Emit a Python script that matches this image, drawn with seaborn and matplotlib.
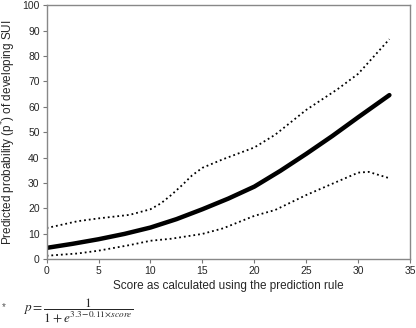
import pandas as pd
import matplotlib
matplotlib.use("Agg")
import matplotlib.pyplot as plt
import seaborn as sns

# values
score_mid = [0, 2.5, 5, 7.5, 10, 12.5, 15, 17.5, 20, 22.5, 25, 27.5, 30, 33]
p_mid = [4.5, 6.1, 7.9, 10.0, 12.5, 15.8, 19.7, 23.9, 28.6, 34.8, 41.5, 48.5, 55.9, 64.6]

score_upper = [0, 3, 5, 8, 10, 11, 12, 13, 14, 15, 17, 20, 22, 25, 28, 30, 33]
p_upper = [12.3, 15.0, 16.1, 17.5, 19.7, 22.0, 25.3, 29.0, 33.0, 36.0, 39.4, 44.0, 49.0, 58.8, 66.9, 73.0, 86.6]

score_lower = [0, 3, 5, 8, 10, 12, 15, 17, 20, 22, 25, 28, 30, 31, 33]
p_lower = [1.4, 2.3, 3.4, 5.6, 7.3, 8.1, 10.0, 12.2, 17.1, 19.4, 25.3, 30.6, 34.1, 34.4, 31.9]

df_mid = pd.DataFrame({"score": score_mid, "p": p_mid})
df_up = pd.DataFrame({"score": score_upper, "p": p_upper})
df_lo = pd.DataFrame({"score": score_lower, "p": p_lower})

sns.set_style("ticks")
plt.rcParams["font.family"] = ["Liberation Sans", "DejaVu Sans"]

fig = plt.figure(figsize=(4.16, 3.28), dpi=100)
ax = fig.add_axes([0.112, 0.2094, 0.874, 0.775])

sns.lineplot(data=df_up, x="score", y="p", ax=ax, color="black", linestyle=":", linewidth=1.3)
sns.lineplot(data=df_lo, x="score", y="p", ax=ax, color="black", linestyle=":", linewidth=1.3)
sns.lineplot(data=df_mid, x="score", y="p", ax=ax, color="black", linewidth=3.2,
             solid_capstyle="round")

ax.set_xlim(0, 35)
ax.set_ylim(0, 100)
ax.set_xticks(range(0, 36, 5))
ax.set_yticks(range(0, 101, 10))
ax.tick_params(axis="both", direction="out", length=3, width=0.8, color="#777777",
               labelsize=7.5, pad=2)
for s in ax.spines.values():
    s.set_visible(True)
    s.set_color("#888888")
    s.set_linewidth(1.0)

ax.set_xlabel("Score as calculated using the prediction rule", fontsize=8.5, labelpad=3)
ax.set_ylabel("Predicted probability (p$^{*}$) of developing SUI", fontsize=8.5, labelpad=3)

fig.text(0.005, 0.055, "*", fontsize=7, color="#555555")
fig.text(0.055, 0.008, r"$p=\dfrac{1}{1+e^{3.3\!-\!0.11\!\times\! score}}$",
         fontsize=9.5, math_fontfamily="stix", va="bottom")

fig.savefig("out.png", dpi=100)
